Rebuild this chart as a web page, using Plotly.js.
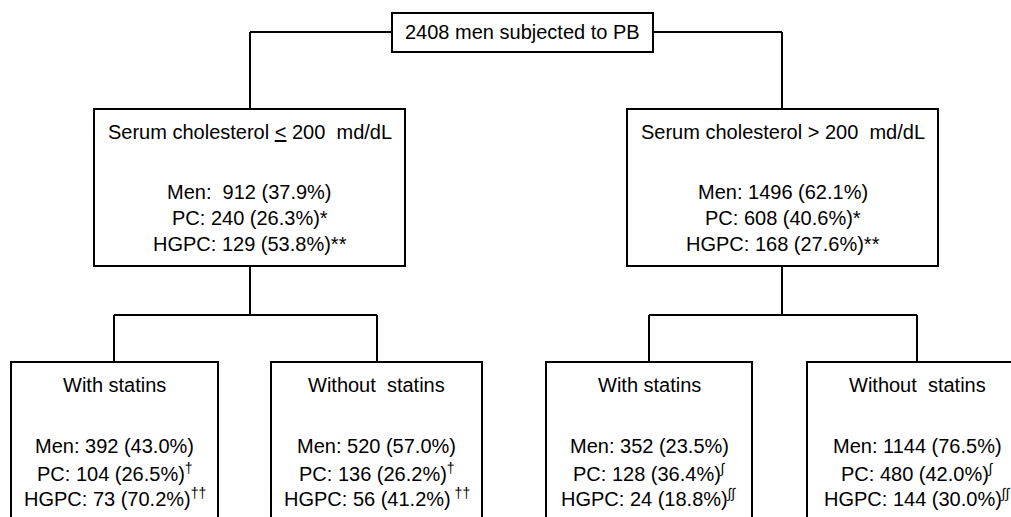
<!DOCTYPE html>
<html><head><meta charset="utf-8">
<script src="https://cdn.plot.ly/plotly-3.0.1.min.js"></script>
<style>html,body{margin:0;padding:0;background:#fff}</style>
</head><body>
<div id="chart" style="width:1011px;height:517px"></div>
<script>
// ---- data ----
const rootLabel = "2408 men subjected to PB";
const groupLabels = ["Serum cholesterol <u>&lt;</u> 200\u00a0\u00a0md/dL", "Serum cholesterol &gt; 200\u00a0\u00a0md/dL"];
const groupMenPrefix = ["Men:\u00a0\u00a0", "Men: "];
const groupMen = [912, 1496];
const groupMenPct = ["37.9", "62.1"];
const groupPC = [240, 608];
const groupPCPct = ["26.3", "40.6"];
const groupPCMark = ["*", "*"];
const groupHGPC = [129, 168];
const groupHGPCPct = ["53.8", "27.6"];
const groupHGPCMark = ["**", "**"];

const subLabels = ["With statins", "Without\u00a0\u00a0statins", "With statins", "Without\u00a0\u00a0statins"];
const subMen = [392, 520, 352, 1144];
const subMenPct = ["43.0", "57.0", "23.5", "76.5"];
const subPC = [104, 136, 128, 480];
const subPCPct = ["26.5", "26.2", "36.4", "42.0"];
const subPCMark = ["†", "†", "∫", "∫"];
const subHGPC = [73, 56, 24, 144];
const subHGPCPct = ["70.2", "41.2", "18.8", "30.0"];
const subHGPCMark = ["††", "\u00a0††", "∫∫", "∫∫"];

// ---- layout geometry ----
const FONT = {family: "'Liberation Sans', Arial, sans-serif", size: 20, color: "#000"};
const LW = 2;
const root = {x0: 392, x1: 653, y0: 13, y1: 52, cy: 32};
const groups = [{x0: 94, x1: 405, cx: 250}, {x0: 627, x1: 938, cx: 782}];
const gY0 = 109, gY1 = 266;
const subs = [{x0: 11, x1: 218, cx: 114}, {x0: 271, x1: 482, cx: 377}, {x0: 546, x1: 752, cx: 649}, {x0: 807, x1: 1027, cx: 917}];
const sY0 = 362, sYbottom = 517;
const branchY = 315;

const shapes = [];
const line = (x0, y0, x1, y1) => shapes.push({type: 'line', xref: 'x', yref: 'y', x0, y0, x1, y1, line: {color: '#000', width: LW}});
const rect = (x0, y0, x1, y1) => shapes.push({type: 'rect', xref: 'x', yref: 'y', x0, y0, x1, y1, line: {color: '#000', width: LW}, fillcolor: 'rgba(0,0,0,0)'});
const openBox = (x0, y0, x1, yb) => shapes.push({type: 'path', xref: 'x', yref: 'y',
  path: `M ${x0} ${yb} L ${x0} ${y0} L ${Math.min(x1, 1011)} ${y0}` + (x1 <= 1011 ? ` L ${x1} ${yb}` : ''),
  line: {color: '#000', width: LW}});

rect(root.x0, root.y0, root.x1, root.y1);
line(groups[0].cx, root.cy, root.x0, root.cy);
line(root.x1, root.cy, groups[1].cx, root.cy);
groups.forEach(g => { line(g.cx, root.cy, g.cx, gY0); rect(g.x0, gY0, g.x1, gY1); line(g.cx, gY1, g.cx, branchY); });
[[0, 1], [2, 3]].forEach(([a, b]) => line(subs[a].cx, branchY, subs[b].cx, branchY));
subs.forEach(s => { line(s.cx, branchY, s.cx, sY0); openBox(s.x0, sY0, s.x1, sYbottom); });

const annotations = [];
const ann = (x, y, text) => annotations.push({x, y, xref: 'x', yref: 'y', text, showarrow: false, xanchor: 'center', yanchor: 'middle', font: FONT});

ann((root.x0 + root.x1) / 2, root.cy, rootLabel);
groups.forEach((g, i) => {
  const cx = (g.x0 + g.x1) / 2;
  ann(cx, 132, groupLabels[i]);
  ann(cx, 192, groupMenPrefix[i] + groupMen[i] + " (" + groupMenPct[i] + "%)");
  ann(cx, 218, "PC: " + groupPC[i] + " (" + groupPCPct[i] + "%)" + groupPCMark[i]);
  ann(cx, 244, "HGPC: " + groupHGPC[i] + " (" + groupHGPCPct[i] + "%)" + groupHGPCMark[i]);
});
subs.forEach((s, i) => {
  const cx = (s.x0 + s.x1) / 2;
  ann(cx, 385, subLabels[i]);
  ann(cx, 446, "Men: " + subMen[i] + " (" + subMenPct[i] + "%)");
  ann(cx, 472, "PC: " + subPC[i] + " (" + subPCPct[i] + "%)<sup>" + subPCMark[i] + "</sup>");
  ann(cx, 497, "HGPC: " + subHGPC[i] + " (" + subHGPCPct[i] + "%)<sup>" + subHGPCMark[i] + "</sup>");
});

const layout = {
  width: 1011, height: 517,
  margin: {l: 0, r: 0, t: 0, b: 0},
  paper_bgcolor: '#fff', plot_bgcolor: '#fff',
  xaxis: {range: [0, 1011], visible: false, fixedrange: true},
  yaxis: {range: [517, 0], visible: false, fixedrange: true},
  showlegend: false,
  shapes, annotations
};
Plotly.newPlot('chart', [], layout, {staticPlot: true, displayModeBar: false}).then(gd => {
  // drop empty placeholder text nodes that Plotly leaves behind
  gd.querySelectorAll('text').forEach(t => { if (!t.textContent.trim()) t.remove(); });
});
</script>
</body></html>
